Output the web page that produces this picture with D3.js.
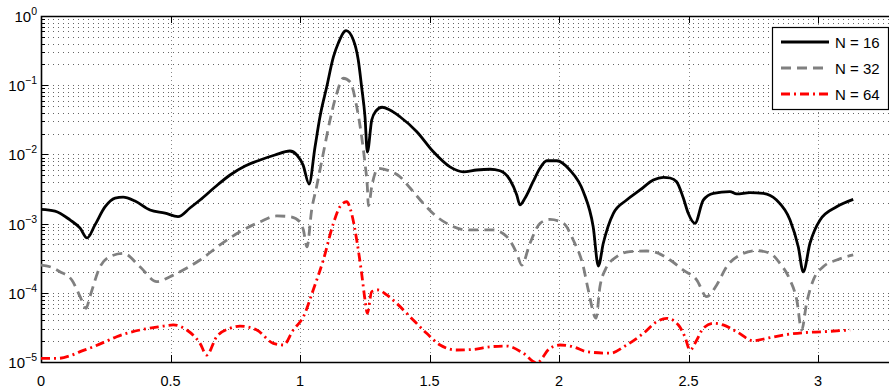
<!DOCTYPE html>
<html>
<head>
<meta charset="utf-8">
<script src="https://cdn.jsdelivr.net/npm/d3@7"></script>
<style>
  body { margin: 0; background: #fff; }
  svg { display: block; font-family: "Liberation Sans", Arial, sans-serif; }
</style>
</head>
<body>
<div id="chart"></div>
<script>
// series: x (0..pi) and error value
var x16 = [0, .054, .112, .151, .178, .208, .247, .286, .317, .363, .421, .479, .529, .575, .614, .672, .730, .788, .846, .903, .961, .988, 1.012, 1.035, 1.058, 1.077, 1.103, 1.129, 1.148, 1.178, 1.206, 1.225, 1.238, 1.251, 1.260, 1.277, 1.293, 1.317, 1.347, 1.386, 1.451, 1.515, 1.579, 1.631, 1.682, 1.734, 1.772, 1.811, 1.837, 1.849, 1.869, 1.900, 1.927, 1.953, 1.991, 2.042, 2.094, 2.132, 2.152, 2.171, 2.210, 2.261, 2.313, 2.364, 2.403, 2.429, 2.454, 2.480, 2.499, 2.525, 2.557, 2.596, 2.660, 2.686, 2.737, 2.789, 2.840, 2.892, 2.924, 2.943, 2.969, 3.008, 3.072, 3.136];
var y16 = [1.61e-3, 1.52e-3, 1.13e-3, 8.6e-4, 6.2e-4, 9.5e-4, 1.74e-3, 2.34e-3, 2.42e-3, 2.12e-3, 1.57e-3, 1.42e-3, 1.26e-3, 1.68e-3, 2.19e-3, 3.38e-3, 5.04e-3, 6.8e-3, 8.3e-3, 9.8e-3, 1.12e-2, 9.8e-3, 7.0e-3, 3.73e-3, 1.28e-2, 3.47e-2, 9.4e-2, 0.256, 0.407, 0.613, 0.45, 0.231, 9.4e-2, 3.47e-2, 1.08e-2, 3.14e-2, 4.24e-2, 4.8e-2, 4.38e-2, 3.5e-2, 2.13e-2, 1.09e-2, 6.6e-3, 5.6e-3, 5.95e-3, 6.1e-3, 5.8e-3, 4.26e-3, 2.59e-3, 1.86e-3, 2.34e-3, 4.03e-3, 6.36e-3, 8.1e-3, 8.1e-3, 5.95e-3, 2.89e-3, 9.0e-4, 2.44e-4, 5.2e-4, 1.41e-3, 2.19e-3, 3.06e-3, 4.27e-3, 4.67e-3, 4.56e-3, 4.03e-3, 2.34e-3, 1.41e-3, 1.01e-3, 2.19e-3, 2.74e-3, 2.89e-3, 2.68e-3, 2.80e-3, 2.74e-3, 2.19e-3, 1.13e-3, 4.6e-4, 2.0e-4, 5.2e-4, 1.13e-3, 1.75e-3, 2.24e-3];

var x32 = [0, .035, .073, .119, .151, .174, .189, .228, .266, .318, .382, .447, .498, .549, .614, .691, .768, .846, .910, .961, 1.0, 1.013, 1.027, 1.045, 1.064, 1.090, 1.116, 1.142, 1.167, 1.193, 1.219, 1.238, 1.251, 1.260, 1.264, 1.278, 1.302, 1.347, 1.386, 1.425, 1.476, 1.528, 1.579, 1.644, 1.695, 1.746, 1.798, 1.837, 1.856, 1.888, 1.927, 1.965, 2.017, 2.055, 2.094, 2.113, 2.143, 2.158, 2.178, 2.223, 2.274, 2.339, 2.377, 2.429, 2.480, 2.532, 2.570, 2.609, 2.647, 2.699, 2.763, 2.815, 2.853, 2.892, 2.918, 2.937, 2.956, 2.982, 3.020, 3.072, 3.136];
var y32 = [2.52e-4, 2.38e-4, 2.02e-4, 1.53e-4, 8.8e-5, 5.97e-5, 8.8e-5, 2.38e-4, 3.33e-4, 3.72e-4, 2.38e-4, 1.45e-4, 1.71e-4, 2.13e-4, 2.98e-4, 4.91e-4, 7.64e-4, 1.06e-3, 1.29e-3, 1.26e-3, 1.06e-3, 8.1e-4, 4.6e-4, 1.57e-3, 3.41e-3, 1.04e-2, 3.14e-2, 7.6e-2, 0.126, 0.112, 4.89e-2, 1.80e-2, 7.4e-3, 3.41e-3, 1.80e-3, 3.61e-3, 6.3e-3, 5.75e-3, 4.76e-3, 3.27e-3, 1.96e-3, 1.26e-3, 9.5e-4, 8.1e-4, 8.1e-4, 8.1e-4, 6.5e-4, 3.72e-4, 2.52e-4, 5.2e-4, 1.01e-3, 1.15e-3, 1.01e-3, 5.8e-4, 2.38e-4, 1.10e-4, 4.3e-5, 1.22e-4, 2.13e-4, 3.33e-4, 3.93e-4, 4.02e-4, 3.80e-4, 2.98e-4, 2.13e-4, 1.53e-4, 8.8e-5, 1.30e-4, 2.38e-4, 3.52e-4, 4.06e-4, 3.72e-4, 2.67e-4, 1.53e-4, 7.9e-5, 2.9e-5, 7.1e-5, 1.53e-4, 2.38e-4, 2.98e-4, 3.52e-4];

var x64 = [0, .067, .112, .151, .202, .254, .292, .382, .459, .511, .563, .614, .640, .678, .730, .768, .833, .897, .936, .974, 1.013, 1.051, 1.090, 1.129, 1.154, 1.180, 1.199, 1.219, 1.238, 1.251, 1.260, 1.277, 1.302, 1.335, 1.373, 1.425, 1.489, 1.541, 1.605, 1.669, 1.734, 1.798, 1.862, 1.914, 1.965, 2.004, 2.055, 2.107, 2.197, 2.261, 2.326, 2.377, 2.416, 2.461, 2.486, 2.506, 2.532, 2.557, 2.596, 2.634, 2.686, 2.750, 2.802, 2.866, 2.943, 3.020, 3.124];
var y64 = [1.13e-5, 1.13e-5, 1.23e-5, 1.41e-5, 1.66e-5, 2.01e-5, 2.32e-5, 2.9e-5, 3.24e-5, 3.43e-5, 2.9e-5, 1.86e-5, 1.26e-5, 2.32e-5, 3.07e-5, 3.31e-5, 2.9e-5, 1.86e-5, 1.76e-5, 2.9e-5, 4.5e-5, 1.10e-4, 2.98e-4, 1.01e-3, 1.75e-3, 2.07e-3, 1.41e-3, 5.8e-4, 1.91e-4, 7.9e-5, 5.06e-5, 1.04e-4, 1.10e-4, 9.3e-5, 7.05e-5, 4.5e-5, 2.6e-5, 1.76e-5, 1.49e-5, 1.52e-5, 1.66e-5, 1.70e-5, 1.34e-5, 9.7e-6, 1.58e-5, 1.76e-5, 1.66e-5, 1.41e-5, 1.34e-5, 1.76e-5, 2.6e-5, 3.82e-5, 4.28e-5, 3.43e-5, 2.32e-5, 1.49e-5, 2.08e-5, 3.07e-5, 3.62e-5, 3.43e-5, 2.74e-5, 2.03e-5, 2.2e-5, 2.45e-5, 2.65e-5, 2.74e-5, 2.9e-5];

var seriesNames = ["N = 16", "N = 32", "N = 64"];
var xTicks = [0, 0.5, 1, 1.5, 2, 2.5, 3];
var yDecades = [0, -1, -2, -3, -4, -5];

var W = 889, H = 390;
var margin = {top: 16, left: 41, bottom: 28};
var plotH = H - margin.top - margin.bottom;

var svg = d3.select("#chart").append("svg")
    .attr("width", W)
    .attr("height", H);

// x axis runs past the right edge of the picture (cropped figure)
var x = d3.scaleLinear().domain([0, 3.28]).range([margin.left, margin.left + 3.28 * 259]);
var y = d3.scaleLog().domain([1e-5, 1]).range([margin.top + plotH, margin.top]);

var x0 = x.range()[0], x1 = x.range()[1];
var yTop = margin.top, yBot = margin.top + plotH;

svg.append("defs").append("clipPath").attr("id", "clip")
    .append("rect")
    .attr("x", x0).attr("y", yTop)
    .attr("width", x1 - x0).attr("height", yBot - yTop);

// minor + major log grid values
var yGrid = [];
yDecades.forEach(function(e) {
    for (var k = 1; k <= 9; k++) {
        var v = k * Math.pow(10, e);
        if (v <= 1) yGrid.push(v);
    }
});

var grid = svg.append("g");
grid.selectAll("line.h")
    .data(yGrid.filter(function(v) { return v > 1e-5 && v < 1; }))
    .enter().append("line")
    .attr("x1", x0 + 2).attr("x2", x1)
    .attr("y1", function(d) { return Math.round(y(d)) + 0.5; })
    .attr("y2", function(d) { return Math.round(y(d)) + 0.5; })
    .attr("stroke", "#000")
    .attr("stroke-opacity", 0.6)
    .attr("stroke-width", 1)
    .attr("stroke-dasharray", "1,4");

grid.selectAll("line.v")
    .data(xTicks.filter(function(d) { return d > 0; }))
    .enter().append("line")
    .attr("x1", function(d) { return Math.round(x(d)) + 0.5; })
    .attr("x2", function(d) { return Math.round(x(d)) + 0.5; })
    .attr("y1", yTop).attr("y2", yBot)
    .attr("stroke", "#888")
    .attr("stroke-width", 1)
    .attr("stroke-dasharray", "1,3");

// frame: left, top, bottom
svg.append("path")
    .attr("d", "M" + (x1) + "," + (yTop + 0.5) + "H" + (x0 + 0.5) + "V" + (yBot + 0.5) + "H" + x1)
    .attr("fill", "none")
    .attr("stroke", "#000")
    .attr("stroke-width", 1.6);

// inward ticks on the log axis
svg.append("g").selectAll("line")
    .data(yGrid)
    .enter().append("line")
    .attr("x1", x0)
    .attr("x2", function(d) { return x0 + (Math.abs(Math.log10(d) - Math.round(Math.log10(d))) < 1e-9 ? 7 : 4); })
    .attr("y1", function(d) { return Math.round(y(d)) + 0.5; })
    .attr("y2", function(d) { return Math.round(y(d)) + 0.5; })
    .attr("stroke", "#000")
    .attr("stroke-width", 1);

// inward x ticks top and bottom
var xt = svg.append("g");
xTicks.forEach(function(t) {
    var px = Math.round(x(t)) + 0.5;
    xt.append("line").attr("x1", px).attr("x2", px).attr("y1", yBot).attr("y2", yBot - 7)
        .attr("stroke", "#000").attr("stroke-width", 1);
    xt.append("line").attr("x1", px).attr("x2", px).attr("y1", yTop).attr("y2", yTop + 7)
        .attr("stroke", "#000").attr("stroke-width", 1);
});

// tick labels
svg.append("g").selectAll("text")
    .data(xTicks)
    .enter().append("text")
    .attr("x", function(d) { return x(d); })
    .attr("y", H - 4)
    .attr("text-anchor", "middle")
    .attr("font-size", "14.5px")
    .text(function(d) { return d3.format("")(d); });

var yl = svg.append("g");
yDecades.forEach(function(e) {
    var t = yl.append("text")
        .attr("x", 37)
        .attr("y", y(Math.pow(10, e)) + 6)
        .attr("text-anchor", "end")
        .attr("font-size", "15px");
    t.append("tspan").text("10");
    t.append("tspan")
        .attr("dy", -7)
        .attr("font-size", "10.5px")
        .text(e === 0 ? "0" : "\u2212" + (-e));
});

// curves
var line = d3.line()
    .x(function(d) { return x(d[0]); })
    .y(function(d) { return y(d[1]); })
    .curve(d3.curveMonotoneX);

var series = [
    {xs: x16, ys: y16, color: "#000", dash: null},
    {xs: x32, ys: y32, color: "#808080", dash: "10,6"},
    {xs: x64, ys: y64, color: "#ff0000", dash: "9,4,2,4"}
];

var plot = svg.append("g").attr("clip-path", "url(#clip)");
series.forEach(function(s) {
    plot.append("path")
        .datum(s.xs.map(function(v, i) { return [v, s.ys[i]]; }))
        .attr("d", line)
        .attr("fill", "none")
        .attr("stroke", s.color)
        .attr("stroke-width", 2.8)
        .attr("stroke-linejoin", "round")
        .attr("stroke-dasharray", s.dash);
});

// legend
var lg = svg.append("g").attr("transform", "translate(772,27)");
lg.append("rect")
    .attr("x", 0.5).attr("y", 0.5)
    .attr("width", 116).attr("height", 82)
    .attr("fill", "#fff")
    .attr("stroke", "#000")
    .attr("stroke-width", 1.2);
seriesNames.forEach(function(name, i) {
    var ly = 15 + i * 26;
    lg.append("line")
        .attr("x1", 9).attr("x2", 57)
        .attr("y1", ly).attr("y2", ly)
        .attr("stroke", series[i].color)
        .attr("stroke-width", 2.8)
        .attr("stroke-dasharray", series[i].dash);
    lg.append("text")
        .attr("x", 63)
        .attr("y", ly + 5.5)
        .attr("font-size", "15px")
        .text(name);
});
</script>
</body>
</html>
